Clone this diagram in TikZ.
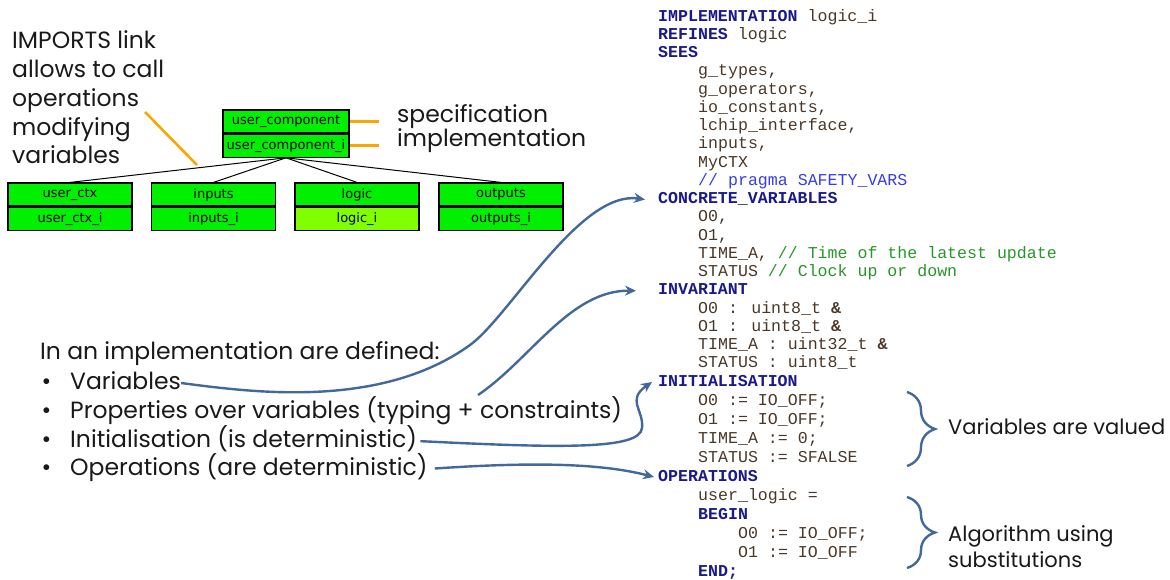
\documentclass[tikz,border=0pt]{standalone}
\usepackage{fontspec}
\setmainfont{Poppins}
\newfontfamily\codefont{Liberation Mono}
\newfontfamily\boxfont{DejaVu Sans}
\usetikzlibrary{arrows.meta,positioning,calc,decorations.pathreplacing}

\definecolor{boxgreen}{RGB}{0,240,0}
\definecolor{implgreen}{RGB}{128,255,0}
\definecolor{kwblue}{RGB}{25,25,140}
\definecolor{idbrown}{RGB}{75,55,40}
\definecolor{cmgreen}{RGB}{40,150,40}
\definecolor{pragblue}{RGB}{55,60,230}
\definecolor{linkblue}{RGB}{65,105,155}
\definecolor{linkorange}{RGB}{255,165,0}

\newcommand{\kw}[1]{{\bfseries\color{kwblue}#1}}
\newcommand{\cm}[1]{{\color{cmgreen}#1}}

\begin{document}
\begin{tikzpicture}[x=1pt, y=-1pt,
	comp/.style={rectangle, draw=black, line width=1.2pt, fill=boxgreen, minimum width=124pt, minimum height=23pt, inner sep=0pt, font=\boxfont\fontsize{13}{14}\selectfont},
	code/.style={anchor=west, inner sep=0pt, text=idbrown, text height=11pt, text depth=3pt, font=\codefont\fontsize{16.6}{18}\selectfont},
	say/.style={anchor=west, inner sep=0pt, text=black!90, font=\fontsize{23.5}{28.7}\selectfont},
	item/.style={say, text height=17pt, text depth=5pt},
	note/.style={say, font=\fontsize{21}{26}\selectfont},
	tie/.style={draw=black, line width=1pt},
	imp/.style={draw=linkorange, line width=2.6pt},
	link/.style={draw=linkblue, line width=2.4pt, -{Stealth[length=11pt, width=10pt]}},
	brace/.style={draw=linkblue, line width=2.4pt, decorate, decoration={brace, amplitude=28pt}}]
	\useasboundingbox (0,0) rectangle (1170,579);

	% component tree
	\path (286,121.5) node[comp, minimum width=126pt] (ucomp) {user\_component}
		(70,194.5) node[comp] (ctx) {user\_ctx}
		(213.5,194.5) node[comp] (inputs) {inputs}
		(357,194.5) node[comp] (logic) {logic}
		(501,194.5) node[comp] (outputs) {outputs};
	\node[comp, minimum width=126pt, below=0pt of ucomp] (ucompi) {user\_component\_i};
	\node[comp, below=0pt of ctx] (ctxi) {user\_ctx\_i};
	\node[comp, below=0pt of inputs] (inputsi) {inputs\_i};
	\node[comp, fill=implgreen, below=0pt of logic] (logici) {logic\_i};
	\node[comp, below=0pt of outputs] (outputsi) {outputs\_i};

	\draw[tie] (ucompi.south) -- (ctx.north);
	\draw[tie] (ucompi.south) -- (inputs.north);
	\draw[tie] (ucompi.south) -- (logic.north);
	\draw[tie] (ucompi.south) -- (outputs.north);

	% remarks
	\node[say, align=left] (imports) at (12,97.5) {IMPORTS link\\allows to call\\operations\\modifying\\variables};
	\node[item] (spec) at (397,116) {specification};
	\node[item] (impl) at (397,140) {implementation};
	\coordinate (impfrom) at (145,112);
	\coordinate (impto) at (197,165);
	\draw[imp] (impfrom) -- (impto);
	\draw[imp, shorten >=18pt] (ucomp.east) -- (ucomp.east -| spec.west);
	\draw[imp, shorten >=18pt] (ucompi.east) -- (ucompi.east -| impl.west);

	% the list
	\path (40,353) node[item] (defined) {In an implementation are defined:}
		(70,383) node[item] (vars) {\llap{\textbullet\hspace{19pt}}Variables}
		(70,412) node[item] (props) {\llap{\textbullet\hspace{19pt}}Properties over variables (typing + constraints)}
		(70,441) node[item] (init) {\llap{\textbullet\hspace{19pt}}Initialisation (is deterministic)}
		(70,469) node[item] (ops) {\llap{\textbullet\hspace{19pt}}Operations (are deterministic)};

	% B code
	\path (658,17) node[code] (implkw) {\kw{IMPLEMENTATION} logic\_i}
		(658,35.25) node[code] (refines) {\kw{REFINES} logic}
		(658,53.5) node[code] (sees) {\kw{SEES}}
		(698,71.75) node[code] (gtypes) {g\_types,}
		(698,90) node[code] (gops) {g\_operators,}
		(698,108.25) node[code] (ioconst) {io\_constants,}
		(698,126.5) node[code] (lchip) {lchip\_interface,}
		(698,144.75) node[code] (seeinputs) {inputs,}
		(698,163) node[code] (myctx) {MyCTX}
		(698,181.25) node[code] (pragma) {{\color{pragblue}// pragma SAFETY\_VARS}}
		(658,199.5) node[code] (conc) {\kw{CONCRETE\_VARIABLES}}
		(698,217.75) node[code] (vo0) {O0,}
		(698,236) node[code] (vo1) {O1,}
		(698,254.25) node[code] (vtime) {TIME\_A, \cm{// Time of the latest update}}
		(698,272.5) node[code] (vstatus) {STATUS \cm{// Clock up or down}}
		(658,290.75) node[code] (inv) {\kw{INVARIANT}}
		(698,309) node[code] (io0) {O0 : uint8\_t {\bfseries\&}}
		(698,327.25) node[code] (io1) {O1 : uint8\_t {\bfseries\&}}
		(698,345.5) node[code] (itime) {TIME\_A : uint32\_t {\bfseries\&}}
		(698,363.75) node[code] (istatus) {STATUS : uint8\_t}
		(658,382) node[code] (initkw) {\kw{INITIALISATION}}
		(698,401) node[code] (so0) {O0 := IO\_OFF;}
		(698,420) node[code] (so1) {O1 := IO\_OFF;}
		(698,439) node[code] (stime) {TIME\_A := 0;}
		(698,458) node[code] (sstatus) {STATUS := SFALSE}
		(658,477) node[code] (opskw) {\kw{OPERATIONS}}
		(698,496) node[code] (ulogic) {user\_logic =}
		(698,515) node[code] (beginkw) {\kw{BEGIN}}
		(738,534) node[code] (bo0) {O0 := IO\_OFF;}
		(738,553) node[code] (bo1) {O1 := IO\_OFF}
		(698,572) node[code] (endkw) {\kw{END;}};

	% arrows to the clauses
	\coordinate (propsfrom) at (478,395);
	\draw[link] (vars.east) .. controls (250,392) and (380,410) .. (470,345) .. controls (510,316) and (580,190) .. ($(conc.west)+(-13,0)$);
	\draw[link] (propsfrom) .. controls (530,360) and (570,290) .. ($(inv.west)+(-22,0)$);
	\draw[link, shorten <=3pt] (init.east) .. controls (560,448) and (640,450) .. (642,428) .. controls (644,410) and (626,400) .. ($(initkw.west)+(-6,0)$);
	\draw[link, shorten <=7pt] (ops.east) .. controls (530,462) and (600,463) .. ($(opskw.west)+(-4,0)$);

	% braces
	\draw[brace] (907,392) -- (907,466);
	\draw[brace] (907,497) -- (907,568);
	\node[note] (valued) at (948,427) {Variables are valued};
	\node[note, align=left] (algo) at (948,547) {Algorithm using\\substitutions};
\end{tikzpicture}
\end{document}
